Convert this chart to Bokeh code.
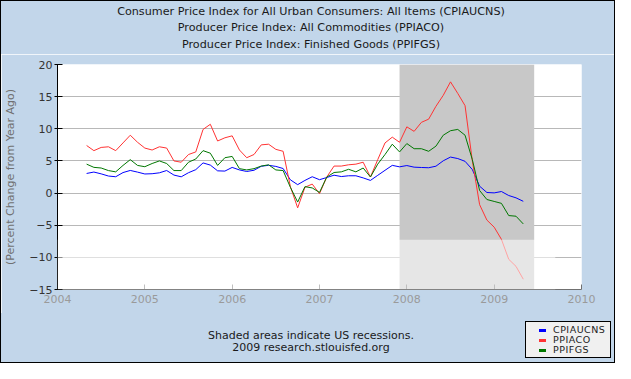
from bokeh.plotting import figure
from bokeh.layouts import column
from bokeh.models import (Range1d, FixedTicker, BoxAnnotation, Div)
from bokeh.embed import file_html
from bokeh.resources import INLINE

# ---------------- data ----------------
months = []
for yr in range(2004, 2010):
    for mo in range(1, 13):
        ym = f"{yr}-{mo:02d}"
        if "2004-05" <= ym <= "2009-05":
            months.append(ym)

cpiaucns = [3.05, 3.27, 2.99, 2.65, 2.54, 3.19, 3.52, 3.26,
            2.97, 3.01, 3.15, 3.51, 2.80, 2.53, 3.17, 3.64, 4.69, 4.35, 3.46, 3.42,
            3.99, 3.60, 3.36, 3.55, 4.17, 4.32, 4.15, 3.82, 2.06, 1.31, 1.97, 2.54,
            2.08, 2.42, 2.78, 2.57, 2.69, 2.69, 2.36, 1.97, 2.76, 3.54, 4.31, 4.08,
            4.28, 4.03, 3.98, 3.94, 4.18, 5.02, 5.60, 5.37, 4.94, 3.66, 1.07, 0.09,
            0.03, 0.24, -0.38, -0.74, -1.28]

ppiaco = [7.4, 6.6, 7.1, 7.2, 6.6, 7.8, 9.0, 7.9,
          7.0, 6.7, 7.2, 7.0, 5.0, 4.8, 6.0, 6.4, 9.9, 10.7, 8.1, 8.6,
          8.9, 6.7, 5.5, 6.0, 7.5, 7.6, 6.8, 6.5, 1.0, -2.3, 0.9, 1.4,
          -0.1, 2.5, 4.2, 4.2, 4.4, 4.5, 4.8, 2.5, 5.2, 7.8, 8.7, 7.9,
          10.3, 9.6, 11.0, 11.5, 13.5, 15.2, 17.3, 15.5, 13.6, 5.0, -1.8, -4.2,
          -5.3, -7.2, -10.3, -11.4, -13.4]

ppifgs = [4.5, 4.0, 3.9, 3.5, 3.3, 4.3, 5.2, 4.3,
          4.1, 4.6, 5.0, 4.6, 3.5, 3.5, 4.8, 5.3, 6.6, 6.2, 4.3, 5.5,
          5.7, 3.8, 3.6, 3.8, 4.2, 4.4, 3.6, 3.5, 0.9, -1.4, 1.0, 0.8,
          0.1, 2.5, 3.2, 3.3, 3.7, 3.3, 3.9, 2.5, 4.5, 6.0, 7.6, 6.4,
          7.7, 6.9, 6.9, 6.5, 7.3, 9.0, 9.7, 9.9, 9.0, 5.2, 0.4, -1.0,
          -1.3, -1.6, -3.5, -3.6, -4.8]

series_names = ["CPIAUCNS", "PPIACO", "PPIFGS"]
series_colors = ["#0000ff", "#ff3333", "#007700"]
year_ticks = [2004, 2005, 2006, 2007, 2008, 2009, 2010]
y_ticks = [-15, -10, -5, 0, 5, 10, 15, 20]
recession_start = "2007-12"
recession_end = "2009-06"
title_lines = ["Consumer Price Index for All Urban Consumers: All Items (CPIAUCNS)",
               "Producer Price Index: All Commodities (PPIACO)",
               "Producer Price Index: Finished Goods (PPIFGS)"]
note_lines = ["Shaded areas indicate US recessions.",
              "2009 research.stlouisfed.org"]
y_label = "(Percent Change from Year Ago)"


def frac(ym):
    y, m = ym.split("-")
    return int(y) + (int(m) - 1) / 12.0


x = [frac(m) for m in months]
FONT = "DejaVu Sans"
BG = "#c2d6ea"
W = 613

# ---------------- title strip ----------------
title_html = (
    f'<div style="position:relative;width:{W}px;height:53px;font-family:\'DejaVu Sans\';">'
    f'<div style="position:absolute;left:0px;top:3px;width:620px;text-align:center;'
    f'font-size:11.2px;line-height:16.3px;color:#1a1a1a;white-space:nowrap;">'
    + "<br>".join(title_lines) +
    '</div></div>')
top_strip = Div(text=title_html, width=W, height=53, margin=0,
                styles={"background-color": BG})

# ---------------- main plot ----------------
p = figure(width=W, height=259,
           x_range=Range1d(year_ticks[0], year_ticks[-1]),
           y_range=Range1d(y_ticks[0], y_ticks[-1]),
           output_backend="svg", toolbar_location=None, tools="",
           title_location=None,
           min_border_left=50, min_border_right=33, min_border_top=10,
           min_border_bottom=24,
           background_fill_color="white", border_fill_color=BG)
p.outline_line_color = None

p.xaxis.ticker = FixedTicker(ticks=year_ticks)
p.xaxis.major_tick_in = 5
p.xaxis.major_tick_out = 0
p.xaxis.minor_tick_line_color = None
p.xaxis.axis_line_color = "#707070"
p.xaxis.major_tick_line_color = "#707070"
p.xaxis.major_label_text_font = FONT
p.xaxis.major_label_text_font_size = "11px"
p.xaxis.major_label_text_color = "#9a9a9a"
p.xaxis.major_label_standoff = 5

p.yaxis.ticker = FixedTicker(ticks=y_ticks)
p.yaxis.major_tick_in = 5
p.yaxis.major_tick_out = 3
p.yaxis.minor_tick_line_color = None
p.yaxis.axis_line_color = "black"
p.yaxis.major_tick_line_color = "black"
p.yaxis.major_label_text_font = FONT
p.yaxis.major_label_text_font_size = "11px"
p.yaxis.major_label_text_color = "#333333"
p.yaxis.major_label_standoff = 2
p.yaxis.axis_label = y_label
p.yaxis.axis_label_text_font = FONT
p.yaxis.axis_label_text_font_size = "11px"
p.yaxis.axis_label_text_font_style = "normal"
p.yaxis.axis_label_text_color = "#707070"
p.yaxis.axis_label_standoff = 9

p.xgrid.visible = False
p.ygrid.ticker = FixedTicker(ticks=y_ticks)
p.ygrid.grid_line_color = "#b8b8b8"

# recession shading
rec = BoxAnnotation(left=frac(recession_start), right=frac(recession_end) + 0.5 / 12,
                    fill_color="#c8c8c8", fill_alpha=1.0, line_color=None,
                    level="underlay")
p.add_layout(rec)

# series
for vals, col, name in zip([cpiaucns, ppiaco, ppifgs], series_colors, series_names):
    p.line(x, vals, line_color=col, line_width=1, name=name)

# light veil over the lower part of the plot (as in the reference image)
veil = BoxAnnotation(top=-7.27, right=2009.70, fill_color="white", fill_alpha=0.55,
                     line_color=None)
p.add_layout(veil)

# ---------------- bottom strip: notes + legend ----------------
rows = "".join(
    f'<div style="height:10px;line-height:10px;white-space:nowrap;">'
    f'<span style="display:inline-block;width:7px;height:3px;background:{c};'
    f'vertical-align:middle;margin-right:7px;"></span>{n}</div>'
    for n, c in zip(series_names, series_colors))
notes = "<br>".join(note_lines)
html = (
    f'<div style="position:relative;width:{W}px;height:49px;font-family:\'DejaVu Sans\';">'
    f'<div style="position:absolute;left:0px;top:17px;width:620px;text-align:center;'
    f'font-size:11px;line-height:12px;color:#1a1a1a;">{notes}</div>'
    f'<div style="position:absolute;left:524px;top:8px;width:86px;height:37px;'
    f'box-sizing:border-box;border:1px solid black;background:#f0f0f0;'
    f'font-size:9.5px;letter-spacing:0.5px;color:#222;'
    f'padding:3px 0px 0px 13px;">{rows}</div>'
    f'</div>')
bottom_strip = Div(text=html, width=W, height=49, margin=0,
                   styles={"background-color": BG})

layout = column(top_strip, p, bottom_strip, spacing=0,
                styles={"border": "1px solid black"})

open("out.html", "w").write(file_html(layout, INLINE))
